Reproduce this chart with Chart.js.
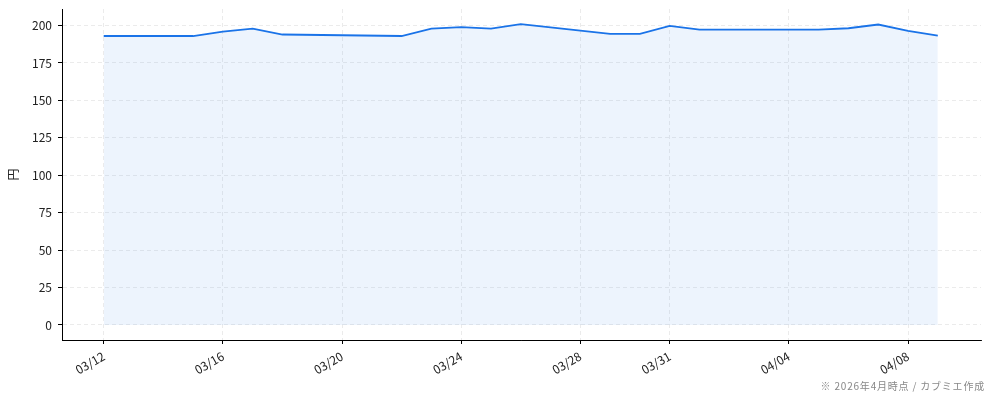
<!DOCTYPE html>
<html lang="ja">
<head>
<meta charset="utf-8">
<title>株価推移</title>
<script src="https://cdn.jsdelivr.net/npm/chart.js@4.4.1/dist/chart.umd.min.js"></script>
<style>
    html, body { margin: 0; padding: 0; background: #fff; }
    #wrap { width: 994px; height: 400px; position: relative; }
</style>
</head>
<body>
<div id="wrap"><canvas id="priceChart"></canvas></div>
<script>
// 日付と終値(円)
const dates = [
    "2026-03-12", "2026-03-15", "2026-03-16", "2026-03-17", "2026-03-18",
    "2026-03-22", "2026-03-23", "2026-03-24", "2026-03-25", "2026-03-26",
    "2026-03-29", "2026-03-30", "2026-03-31", "2026-04-01", "2026-04-05",
    "2026-04-06", "2026-04-07", "2026-04-08", "2026-04-09"
];
const prices = [
    193, 193, 196, 198, 194,
    193, 198, 199, 198, 201,
    194.5, 194.5, 199.8, 197.3, 197.3,
    198.2, 200.7, 196.5, 193.3
];
const xTickDates = ["2026-03-12", "2026-03-16", "2026-03-20", "2026-03-24", "2026-03-28", "2026-03-31", "2026-04-04", "2026-04-08"];
const yTicks = [0, 25, 50, 75, 100, 125, 150, 175, 200];
const footnote = "※ 2026年4月時点 / カブミエ作成";

const FONT = "'Noto Sans CJK JP', 'Noto Sans', sans-serif";
const DAY = 86400000;
const baseDate = new Date(dates[0] + "T00:00:00Z");

function toDay(str) {
    return Math.round((new Date(str + "T00:00:00Z") - baseDate) / DAY);
}

function dayLabel(day) {
    const d = new Date(baseDate.getTime() + day * DAY);
    return `${String(d.getUTCMonth() + 1).padStart(2, "0")}/${String(d.getUTCDate()).padStart(2, "0")}`;
}

const points = dates.map((d, i) => ({ x: toDay(d), y: prices[i] }));
const xTicks = xTickDates.map(toDay);

const footnotePlugin = {
    id: "footnote",
    afterDraw(chart) {
        const ctx = chart.ctx;
        ctx.save();
        ctx.font = `10px ${FONT}`;
        ctx.letterSpacing = "0.8px";
        ctx.fillStyle = "#888";
        ctx.textAlign = "right";
        ctx.textBaseline = "alphabetic";
        ctx.fillText(footnote, 985, 390);
        ctx.restore();
    }
};

const gridOpts = {
    color: "rgba(0,0,0,0.10)",
    lineWidth: 0.8,
    tickColor: "#000",
    tickLength: 4,
    tickWidth: 1,
    tickBorderDash: []
};

new Chart(document.getElementById("priceChart"), {
    type: "line",
    data: {
        datasets: [{
            label: "株価",
            data: points,
            borderColor: "#1a73e8",
            borderWidth: 1.8,
            backgroundColor: "rgba(26,115,232,0.08)",
            fill: "origin",
            pointRadius: 0,
            tension: 0
        }]
    },
    options: {
        responsive: true,
        maintainAspectRatio: false,
        animation: false,
        layout: { padding: { top: 9, right: 13, left: 0, bottom: 0 } },
        plugins: {
            legend: { display: false },
            tooltip: { enabled: false }
        },
        scales: {
            x: {
                type: "linear",
                min: -1.4,
                max: 29.45,
                afterBuildTicks: (scale) => { scale.ticks = xTicks.map((v) => ({ value: v })); },
                afterFit: (scale) => {
                    scale.height = 60;
                    scale.paddingLeft = 0;
                    scale.paddingRight = 0;
                },
                grid: gridOpts,
                border: { color: "#000", width: 1, dash: [4, 3] },
                ticks: {
                    autoSkip: false,
                    minRotation: 30,
                    maxRotation: 30,
                    padding: 5,
                    color: "#222",
                    font: { family: FONT, size: 12 },
                    callback: (value) => dayLabel(value)
                }
            },
            y: {
                min: -10.05,
                max: 211.05,
                afterBuildTicks: (scale) => { scale.ticks = yTicks.map((v) => ({ value: v })); },
                afterFit: (scale) => {
                    scale.width = 62;
                    scale.paddingTop = 0;
                    scale.paddingBottom = 0;
                },
                grid: gridOpts,
                border: { color: "#000", width: 1, dash: [4, 3] },
                title: {
                    display: true,
                    text: "円",
                    color: "#222",
                    font: { family: FONT, size: 12 },
                    padding: { top: 6, bottom: 0 }
                },
                ticks: {
                    padding: 6,
                    color: "#222",
                    font: { family: FONT, size: 12 }
                }
            }
        }
    },
    plugins: [footnotePlugin]
});
</script>
</body>
</html>
